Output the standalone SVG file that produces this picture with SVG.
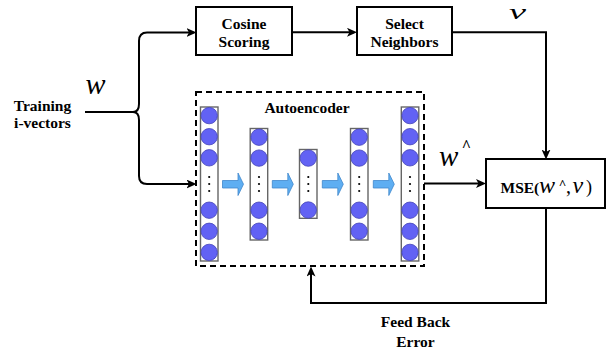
<svg xmlns="http://www.w3.org/2000/svg" width="609" height="349" viewBox="0 0 609 349">
<style>
.box{fill:#fff;stroke:#000;stroke-width:2}
.lbl{font-family:"Liberation Serif",serif;font-weight:bold;font-size:15.5px;fill:#000;text-anchor:middle}
.math{font-family:"Liberation Serif",serif;font-style:italic;fill:#000}
.hat{font-family:"Liberation Serif",serif;font-weight:bold;fill:#000;text-anchor:middle}
.conn{fill:none;stroke:#000;stroke-width:2}
.col{fill:#fff;stroke:#666;stroke-width:1.4}
.neu{fill:#6262f4;stroke:#4444b8;stroke-width:0.8}
.dot{fill:#000}
.blk{fill:#5eaef2;stroke:#3f86cc;stroke-width:0.8}
</style>
<defs>
<marker id="ah" viewBox="0 0 10 9" refX="7" refY="4.5" markerWidth="10" markerHeight="9" markerUnits="userSpaceOnUse" orient="auto">
<path d="M0,0 L10,4.5 L0,9 L2.5,4.5 z" fill="#000"/>
</marker>
<g id="dots"><circle class="dot" cx="0" cy="177" r="1.1"/><circle class="dot" cx="0" cy="184" r="1.1"/><circle class="dot" cx="0" cy="191" r="1.1"/></g>
<path id="barrow" class="blk" d="M0,180.5 H15.5 V173 L21,184.2 L15.5,195.5 V188 H0 Z"/>
</defs>

<g id="training">
<text class="lbl" x="42.5" y="110.5">Training</text>
<text class="lbl" x="42.5" y="128">i-vectors</text>
<text class="math" x="85.5" y="94" font-size="30">w</text>
</g>

<g id="cosine">
<rect class="box" x="196" y="7" width="96" height="48"/>
<text class="lbl" x="244" y="29">Cosine</text>
<text class="lbl" x="244" y="47">Scoring</text>
</g>

<g id="select">
<rect class="box" x="357" y="7" width="95" height="48"/>
<text class="lbl" x="404.5" y="29">Select</text>
<text class="lbl" x="404.5" y="47">Neighbors</text>
<text class="math" x="517.5" y="19" font-size="21" text-anchor="middle" textLength="17" lengthAdjust="spacingAndGlyphs">v</text>
</g>

<g id="autoencoder">
<rect x="196" y="92" width="228" height="174" fill="none" stroke="#000" stroke-width="2" stroke-dasharray="6,4"/>
<text class="lbl" x="307" y="112.5">Autoencoder</text>
<g id="layer1">
<rect class="col" x="200.5" y="107" width="17.5" height="154"/>
<circle class="neu" cx="209.2" cy="115.6" r="8.2"/><circle class="neu" cx="209.2" cy="136.7" r="8.2"/><circle class="neu" cx="209.2" cy="157.8" r="8.2"/>
<circle class="neu" cx="209.2" cy="210.2" r="8.2"/><circle class="neu" cx="209.2" cy="231.3" r="8.2"/><circle class="neu" cx="209.2" cy="252.4" r="8.2"/>
<use href="#dots" x="209.2"/>
</g>
<g id="layer2">
<rect class="col" x="250.2" y="128.5" width="17.5" height="111.5"/>
<circle class="neu" cx="259" cy="137.2" r="8.2"/><circle class="neu" cx="259" cy="158.1" r="8.2"/>
<circle class="neu" cx="259" cy="210.2" r="8.2"/><circle class="neu" cx="259" cy="231.2" r="8.2"/>
<use href="#dots" x="259"/>
</g>
<g id="layer3">
<rect class="col" x="299.5" y="149.5" width="17.5" height="68.8"/>
<circle class="neu" cx="308.3" cy="158.1" r="8.2"/><circle class="neu" cx="308.3" cy="210" r="8.2"/>
<use href="#dots" x="308.3"/>
</g>
<g id="layer4">
<rect class="col" x="350.5" y="128.5" width="17.5" height="111.5"/>
<circle class="neu" cx="359.2" cy="137.2" r="8.2"/><circle class="neu" cx="359.2" cy="158.1" r="8.2"/>
<circle class="neu" cx="359.2" cy="210.2" r="8.2"/><circle class="neu" cx="359.2" cy="231.2" r="8.2"/>
<use href="#dots" x="359.2"/>
</g>
<g id="layer5">
<rect class="col" x="401.3" y="107" width="17.5" height="154"/>
<circle class="neu" cx="410" cy="115.6" r="8.2"/><circle class="neu" cx="410" cy="136.7" r="8.2"/><circle class="neu" cx="410" cy="157.8" r="8.2"/>
<circle class="neu" cx="410" cy="210.2" r="8.2"/><circle class="neu" cx="410" cy="231.3" r="8.2"/><circle class="neu" cx="410" cy="252.4" r="8.2"/>
<use href="#dots" x="410"/>
</g>
<use href="#barrow" x="222.5"/>
<use href="#barrow" x="272.3"/>
<use href="#barrow" x="322.3"/>
<use href="#barrow" x="373.3"/>
</g>

<g id="what">
<text class="math" x="439" y="166" font-size="29">w</text>
<text class="hat" x="466.5" y="151" font-size="16">^</text>
</g>

<g id="mse">
<rect class="box" x="486" y="159" width="119" height="49"/>
<text x="500.5" y="193" font-family="Liberation Serif, serif" font-weight="bold" font-size="15.5">MSE(</text>
<text class="math" x="539" y="193" font-size="24">w</text>
<text class="hat" x="562.5" y="188" font-size="13">^</text>
<text x="566" y="193" font-family="Liberation Serif, serif" font-size="20">,</text>
<text class="math" x="572.5" y="193" font-size="24">v</text>
<text x="586" y="193" font-family="Liberation Serif, serif" font-size="18">)</text>
</g>

<g id="feedback-label">
<text class="lbl" x="415.5" y="326.5">Feed Back</text>
<text class="lbl" x="415.5" y="346.5">Error</text>
</g>

<g id="connectors">
<path class="conn" d="M85,112 H133"/>
<path class="conn" d="M133,112 Q139,112 139,104 V41 Q139,32.5 147,32.5 H193.5" marker-end="url(#ah)"/>
<path class="conn" d="M133,112 Q139,112 139,120 V176 Q139,184 147,184 H193.5" marker-end="url(#ah)"/>
<path class="conn" d="M292,32.3 H354" marker-end="url(#ah)"/>
<path class="conn" d="M452,32.3 H546 V156.5" marker-end="url(#ah)"/>
<path class="conn" d="M424,183.5 H483" marker-end="url(#ah)"/>
<path class="conn" d="M546,208 V303 H311 V269.5" marker-end="url(#ah)"/>
</g>
</svg>
